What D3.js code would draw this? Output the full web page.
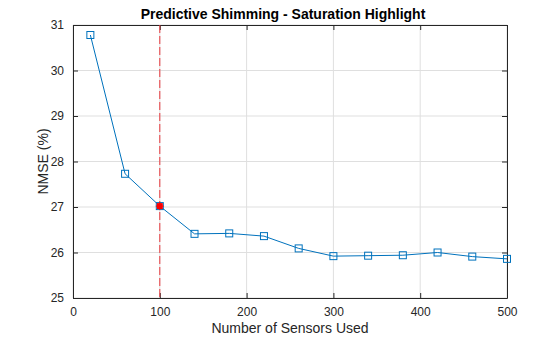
<!DOCTYPE html>
<html>
<head>
<meta charset="utf-8">
<script src="https://cdn.jsdelivr.net/npm/d3@7"></script>
<style>
  body { margin: 0; background: #fff; }
  text { font-family: "Liberation Sans", Arial, Helvetica, sans-serif; }
</style>
</head>
<body>
<div id="wrapper"></div>
<script>
// data
const sensors = [20, 60, 100, 140, 180, 220, 260, 300, 340, 380, 420, 460, 500];
const nmse = [30.78, 27.73, 27.02, 26.41, 26.42, 26.36, 26.09, 25.92, 25.93, 25.94, 26.0, 25.91, 25.86];
const highlightX = 100;
const xTicks = [0, 100, 200, 300, 400, 500];
const yTicks = [25, 26, 27, 28, 29, 30, 31];

const width = 560, height = 337;
const margin = { top: 25, right: 53, bottom: 39, left: 73 };
const innerW = width - margin.left - margin.right;
const innerH = height - margin.top - margin.bottom;

const svg = d3.select("#wrapper").append("svg")
  .attr("width", width).attr("height", height);

const x = d3.scaleLinear().domain([0, 500]).range([0, innerW]);
const y = d3.scaleLinear().domain([25, 31]).range([innerH, 0]);

const g = svg.append("g").attr("transform", `translate(${margin.left},${margin.top})`);

// grid
g.append("g").selectAll("line").data(xTicks).join("line")
  .attr("x1", d => x(d)).attr("x2", d => x(d))
  .attr("y1", 0).attr("y2", innerH)
  .attr("stroke", "#dfdfdf").attr("stroke-width", 1);
g.append("g").selectAll("line").data(yTicks).join("line")
  .attr("y1", d => y(d)).attr("y2", d => y(d))
  .attr("x1", 0).attr("x2", innerW)
  .attr("stroke", "#dfdfdf").attr("stroke-width", 1);

// axes (matlab style, ticks inside)
const axCol = "#262626";
const fmt = d3.format("d");
const xAxis = g.append("g").attr("transform", `translate(0,${innerH})`)
  .call(d3.axisBottom(x).tickValues(xTicks).tickFormat(fmt).tickSizeInner(-5).tickSizeOuter(0).tickPadding(9));
const yAxis = g.append("g")
  .call(d3.axisLeft(y).tickValues(yTicks).tickFormat(fmt).tickSizeInner(-5).tickSizeOuter(0).tickPadding(9));
const xTop = g.append("g")
  .call(d3.axisTop(x).tickValues(xTicks).tickSizeInner(-5).tickSizeOuter(0).tickFormat(""));
const yRight = g.append("g").attr("transform", `translate(${innerW},0)`)
  .call(d3.axisRight(y).tickValues(yTicks).tickSizeInner(-5).tickSizeOuter(0).tickFormat(""));

[xAxis, yAxis, xTop, yRight].forEach(a => {
  a.selectAll("path, line").attr("stroke", axCol);
  a.selectAll("text").attr("fill", axCol).style("font-size", "12px")
    .style("font-family", "'Liberation Sans', Arial, sans-serif");
});

// highlight line
g.append("line")
  .attr("x1", x(highlightX)).attr("x2", x(highlightX))
  .attr("y1", 0).attr("y2", innerH)
  .attr("stroke", "#e8383d").attr("stroke-width", 1)
  .attr("stroke-dasharray", "8,3");

// data line
const pts = sensors.map((s, i) => ({ s: s, v: nmse[i] }));
const blue = "#0072BD";
g.append("path").datum(pts)
  .attr("fill", "none").attr("stroke", blue).attr("stroke-width", 1)
  .attr("d", d3.line().x(d => x(d.s)).y(d => y(d.v)));

g.append("g").selectAll("rect").data(pts).join("rect")
  .attr("x", d => x(d.s) - 3.5).attr("y", d => y(d.v) - 3.5)
  .attr("width", 7).attr("height", 7)
  .attr("fill", "none").attr("stroke", blue).attr("stroke-width", 1);

// highlighted point
const hp = pts.find(d => d.s === highlightX);
g.append("rect")
  .attr("x", x(hp.s) - 3).attr("y", y(hp.v) - 3)
  .attr("width", 6).attr("height", 6).attr("fill", "#ff0000");
g.append("path")
  .attr("d", `M${x(hp.s) - 4},${y(hp.v)}H${x(hp.s) + 4}M${x(hp.s)},${y(hp.v) - 4}V${y(hp.v) + 4}`)
  .attr("stroke", "#ff0000").attr("stroke-width", 1);

// labels
svg.append("text")
  .attr("x", 283).attr("y", 19)
  .attr("text-anchor", "middle")
  .style("font-size", "14px").style("font-weight", "bold").attr("fill", "#000")
  .text("Predictive Shimming - Saturation Highlight");

svg.append("text")
  .attr("x", margin.left + innerW / 2).attr("y", 333)
  .attr("text-anchor", "middle")
  .style("font-size", "14px").attr("fill", axCol)
  .text("Number of Sensors Used");

svg.append("text")
  .attr("transform", `translate(48,${margin.top + innerH / 2}) rotate(-90)`)
  .attr("text-anchor", "middle")
  .style("font-size", "14px").attr("fill", axCol)
  .text("NMSE (%)");
</script>
</body>
</html>
